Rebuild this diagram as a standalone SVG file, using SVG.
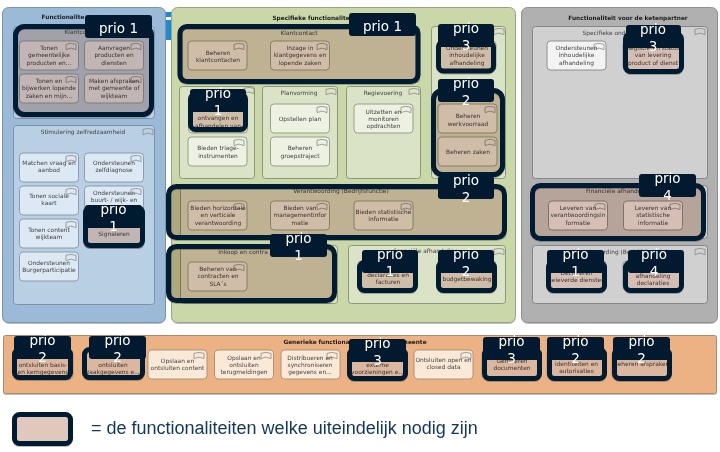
<svg xmlns="http://www.w3.org/2000/svg" width="720" height="452" viewBox="0 0 720 452">
<style>
text{font-family:"DejaVu Sans",Verdana,sans-serif;text-anchor:middle;font-size:5.9px;fill:#454545}
.t{font-weight:700;fill:#1c1c1c;font-size:5.8px}
.panel{stroke-width:1}
.blue{fill:#9bbad8;stroke:#7d93a8}.blue2{fill:#b8cfe4;stroke:#7d93a8}.blue3{fill:#dce8f3;stroke:#8496a6;stroke-width:.9}
.green{fill:#c9d7a9;stroke:#97a387}.green2{fill:#dae3c5;stroke:#8c9879}.green3{fill:#edf1e2;stroke:#8c9879;stroke-width:.9}
.grey{fill:#b0b0b0;stroke:#8f8f8f}.grey2{fill:#d0d0d0;stroke:#868686}.grey3{fill:#f3f3f3;stroke:#868686;stroke-width:.9}
.orange{fill:#edb283;stroke:#a98b70}.orange3{fill:#fbe9d8;stroke:#a08c78;stroke-width:.9}
.tint{fill:#e0c8bd;mix-blend-mode:multiply}
.ring{fill:none;stroke:#011a30;stroke-width:5}
.tag{fill:#011a30}
text.p{fill:#fff;font-size:13.5px}
.flag{fill:none;stroke:#808080;stroke-width:.7}
.legend{font-family:"Liberation Sans",Arial,sans-serif;font-size:18px;fill:#10375c;text-anchor:start}
</style>
<defs>
<path id="flag" class="flag" d="M0 1.3Q5-.5 10 1.3V6.6Q5 3.6 0 6.6Z"/>
<filter id="sh" x="-10%" y="-10%" width="120%" height="125%"><feDropShadow dx="0" dy="1" stdDeviation=".7" flood-color="#000" flood-opacity=".25"/></filter>
<rect id="n" width="59" height="29" rx="3.5"/>
</defs>

<rect width="720" height="452" fill="#fff"/>
<!-- strip of the window behind the panels -->
<rect x="165" y="12" width="7" height="28" fill="#1e8ad6"/>
<rect x="165" y="17" width="7" height="3" fill="#fff"/>

<!-- left column -->
<g id="panel-inwoner">
<rect class="panel blue" x="2.500" y="7.500" width="163" height="315" rx="6" filter="url(#sh)"/>
<text class="t" x="63" y="19">Functionalite</text>
<rect class="panel blue2" x="13.500" y="26.500" width="141" height="92" rx="3"/>
<text x="83" y="34">Klantcontact</text>
<use href="#flag" x="143" y="28"/>
<rect class="panel blue2" x="13.500" y="125.500" width="141" height="179" rx="3"/>
<text x="83" y="134">Stimulering zelfredzaamheid</text>
<use href="#flag" x="143" y="128"/>
</g>
<g id="n-tonen-gemeentelijke"><use href="#n" class="blue3" x="19.500" y="41"/><use href="#flag" x="66" y="43"/><text x="49" y="50">Tonen</text><text x="49" y="57.300">gemeentelijke</text><text x="49" y="64.600">producten en...</text></g>
<g id="n-aanvragen"><use href="#n" class="blue3" x="84.500" y="41"/><use href="#flag" x="131" y="43"/><text x="114" y="50">Aanvragen</text><text x="114" y="57.300">producten en</text><text x="114" y="64.600">diensten</text></g>
<g id="n-tonen-bijwerken"><use href="#n" class="blue3" x="19.500" y="74"/><use href="#flag" x="66" y="76"/><text x="49" y="83">Tonen en</text><text x="49" y="90.300">bijwerken lopende</text><text x="49" y="97.600">zaken en mijn...</text></g>
<g id="n-afspraken"><use href="#n" class="blue3" x="84.500" y="74"/><use href="#flag" x="131" y="76"/><text x="114" y="83">Maken afspraken</text><text x="114" y="90.300">met gemeente of</text><text x="114" y="97.600">wijkteam</text></g>
<g id="n-matchen"><use href="#n" class="blue3" x="19.500" y="153"/><use href="#flag" x="66" y="155"/><text x="49" y="165">Matchen vraag en</text><text x="49" y="172.300">aanbod</text></g>
<g id="n-zelfdiagnose"><use href="#n" class="blue3" x="84.500" y="153"/><use href="#flag" x="131" y="155"/><text x="114" y="165">Ondersteunen</text><text x="114" y="172.300">zelfdiagnose</text></g>
<g id="n-sociale-kaart"><use href="#n" class="blue3" x="19.500" y="186"/><use href="#flag" x="66" y="188"/><text x="49" y="198">Tonen sociale</text><text x="49" y="205.300">kaart</text></g>
<g id="n-buurt"><use href="#n" class="blue3" x="84.500" y="186"/><use href="#flag" x="131" y="188"/><text x="114" y="195">Ondersteunen</text><text x="114" y="202.300">buurt- / wijk- en</text></g>
<g id="n-content-wijkteam"><use href="#n" class="blue3" x="19.500" y="219"/><use href="#flag" x="66" y="221"/><text x="49" y="232">Tonen content</text><text x="49" y="239.300">wijkteam</text></g>
<g id="n-signaleren"><use href="#n" class="blue3" x="84.500" y="219"/><text x="114" y="235.500">Signaleren</text></g>
<g id="n-burgerparticipatie"><use href="#n" class="blue3" x="19.500" y="252"/><use href="#flag" x="66" y="254"/><text x="49" y="264.500">Ondersteunen</text><text x="49" y="271.800">Burgerparticipatie</text></g>

<!-- middle column -->
<g id="panel-specifiek">
<rect class="panel green" x="171.500" y="7.500" width="344" height="315" rx="6" filter="url(#sh)"/>
<text class="t" x="311" y="19.500">Specifieke functionalite</text>
<rect class="panel green2" x="180.500" y="26.500" width="239" height="56" rx="3"/>
<text x="299" y="34.500">Klantcontact</text>
<rect class="panel green2" x="179.500" y="86.500" width="75" height="92" rx="3"/>
<use href="#flag" x="244" y="87"/>
<rect class="panel green2" x="262.500" y="86.500" width="75" height="92" rx="3"/>
<text x="299" y="94.500">Planvorming</text>
<use href="#flag" x="326" y="88"/>
<rect class="panel green2" x="346.500" y="86.500" width="74" height="92" rx="3"/>
<text x="383" y="94.500">Regievoering</text>
<use href="#flag" x="409" y="88"/>
<rect class="panel green2" x="431.500" y="26.500" width="74" height="152" rx="3"/>
<use href="#flag" x="494" y="28"/>
<rect class="panel green2" x="180.500" y="186.500" width="325" height="52" rx="3"/>
<text x="341" y="193">Verantwoording (Bedrijfsfunctie)</text>
<rect class="panel green2" x="180.500" y="245.500" width="157" height="58" rx="3"/>
<text x="243" y="253.500">Inkoop en contra</text>
<rect class="panel green2" x="348.500" y="245.500" width="157" height="58" rx="3"/>
<text x="425" y="253">Financiële afhandeling</text>
<use href="#flag" x="494" y="248"/>
</g>
<g id="n-klantcontacten"><use href="#n" class="green3" x="188" y="41"/><use href="#flag" x="234" y="43"/><text x="218" y="54.500">Beheren</text><text x="218" y="61.500">klantcontacten</text></g>
<g id="n-inzage"><use href="#n" class="green3" x="270.500" y="41"/><use href="#flag" x="317" y="43"/><text x="300" y="50">Inzage in</text><text x="300" y="57.300">klantgegevens en</text><text x="300" y="64.600">lopende zaken</text></g>
<g id="n-ontvangen"><use href="#n" class="green3" x="188.500" y="104"/><text x="218" y="120">ontvangen en</text><text x="218" y="127.500">afhandelen van</text></g>
<g id="n-triage"><use href="#n" class="green3" x="188" y="137"/><use href="#flag" x="234" y="139"/><text x="218" y="150">Bieden triage-</text><text x="218" y="157.500">instrumenten</text></g>
<g id="n-opstellen"><use href="#n" class="green3" x="270.500" y="104"/><use href="#flag" x="317" y="106"/><text x="300" y="120.500">Opstellen plan</text></g>
<g id="n-groepstraject"><use href="#n" class="green3" x="270.500" y="137"/><use href="#flag" x="317" y="139"/><text x="300" y="150">Beheren</text><text x="300" y="157.500">groepstraject</text></g>
<g id="n-uitzetten"><use href="#n" class="green3" x="354" y="104"/><use href="#flag" x="401" y="106"/><text x="383.500" y="113.500">Uitzetten en</text><text x="383.500" y="120.800">monitoren</text><text x="383.500" y="128">opdrachten</text></g>
<g id="n-inhoudelijke"><use href="#n" class="green3" x="437" y="41"/><text x="467" y="50">Ondersteunen</text><text x="467" y="57.300">inhoudelijke</text><text x="467" y="64.600">afhandeling</text></g>
<g id="n-werkvoorraad"><use href="#n" class="green3" x="438" y="104"/><use href="#flag" x="485" y="106"/><text x="468" y="118">Beheren</text><text x="468" y="125.500">werkvoorraad</text></g>
<g id="n-zaken"><use href="#n" class="green3" x="438" y="137"/><use href="#flag" x="485" y="139"/><text x="468" y="154">Beheren zaken</text></g>
<g id="n-horizontale"><use href="#n" class="green3" x="188" y="201"/><use href="#flag" x="234" y="203"/><text x="218" y="210">Bieden horizontale</text><text x="218" y="217.300">en verticale</text><text x="218" y="224.600">verantwoording</text></g>
<g id="n-managementinfo"><use href="#n" class="green3" x="270.500" y="201"/><use href="#flag" x="317" y="203"/><text x="300" y="210">Bieden van</text><text x="300" y="217.300">managementinfor</text><text x="300" y="224.600">matie</text></g>
<g id="n-statistische"><use href="#n" class="green3" x="354" y="201"/><use href="#flag" x="401" y="203"/><text x="383.500" y="214">Bieden statistische</text><text x="383.500" y="221.300">informatie</text></g>
<g id="n-contracten"><use href="#n" class="green3" x="188" y="262"/><use href="#flag" x="234" y="264"/><text x="218" y="271">Beheren van</text><text x="218" y="278.300">contracten en</text><text x="218" y="285.600">SLA´s</text></g>
<g id="n-declaraties"><use href="#n" class="green3" x="358" y="261"/><text x="388" y="277">declaraties en</text><text x="388" y="284.300">facturen</text></g>
<g id="n-budget"><use href="#n" class="green3" x="437" y="261"/><text x="467" y="280.800">budgetbewaking</text></g>

<!-- right column -->
<g id="panel-ketenpartner">
<rect class="panel grey" x="521.500" y="7.500" width="196" height="315" rx="6" filter="url(#sh)"/>
<text class="t" x="628" y="19.500">Functionaliteit voor de ketenpartner</text>
<rect class="panel grey2" x="532.500" y="26.500" width="175" height="152" rx="3"/>
<text x="604" y="34.500">Specifieke ond</text>
<use href="#flag" x="695" y="28"/>
<rect class="panel grey2" x="532.500" y="185.500" width="175" height="53" rx="3"/>
<text x="619" y="193">Financiële afhandeling</text>
<rect class="panel grey2" x="532.500" y="245.500" width="175" height="58" rx="3"/>
<text x="620" y="254">Verantwoording (Bedrijfsfunctie)</text>
<use href="#flag" x="695" y="248"/>
</g>
<g id="n-ketenpartner-inhoudelijk"><use href="#n" class="grey3" x="547" y="41"/><use href="#flag" x="594" y="43"/><text x="576.500" y="50">Ondersteunen</text><text x="576.500" y="57.300">inhoudelijke</text><text x="576.500" y="64.600">afhandeling</text></g>
<g id="n-levering"><use href="#n" class="grey3" x="623" y="41"/><text x="653" y="50">Registreren status</text><text x="653" y="57.300">van levering</text><text x="653" y="64.600">product of dienst</text></g>
<g id="n-verantwoordingsinformatie"><use href="#n" class="grey3" x="548.500" y="201"/><use href="#flag" x="595" y="203"/><text x="578" y="210">Leveren van</text><text x="578" y="217.300">verantwoordingsin</text><text x="578" y="224.600">formatie</text></g>
<g id="n-statistisch"><use href="#n" class="grey3" x="623.500" y="201"/><use href="#flag" x="670" y="203"/><text x="653" y="210">Leveren van</text><text x="653" y="217.300">statistische</text><text x="653" y="224.600">informatie</text></g>
<g id="n-geleverde"><use href="#n" class="grey3" x="547" y="261"/><text x="576.500" y="275">Declareren</text><text x="576.500" y="282.300">geleverde diensten</text></g>
<g id="n-afhandeling-declaraties"><use href="#n" class="grey3" x="623" y="261"/><text x="653" y="278">afhandeling</text><text x="653" y="285.300">declaraties</text></g>

<!-- bottom band -->
<g id="panel-generiek">
<rect class="panel orange" x="3.500" y="335.500" width="713" height="58" rx="2" filter="url(#sh)"/>
<text class="t" x="355" y="343.500">Generieke functionaliteit voor de gemeente</text>
</g>
<g id="n-basisgegevens"><use href="#n" class="orange3" x="14" y="350"/><text x="43" y="367">ontsluiten basis-</text><text x="43" y="374.300">en kerngegevens</text></g>
<g id="n-zaakgegevens"><use href="#n" class="orange3" x="84" y="350"/><text x="113" y="367">ontsluiten</text><text x="113" y="374.300">zaakgegevens e...</text></g>
<g id="n-content"><use href="#n" class="orange3" x="148" y="350"/><use href="#flag" x="194" y="352"/><text x="177.500" y="363">Opslaan en</text><text x="177.500" y="370.300">ontsluiten content</text></g>
<g id="n-terugmeldingen"><use href="#n" class="orange3" x="214.500" y="350"/><use href="#flag" x="261" y="352"/><text x="244" y="359.500">Opslaan en</text><text x="244" y="366.800">ontsluiten</text><text x="244" y="374">terugmeldingen</text></g>
<g id="n-distribueren"><use href="#n" class="orange3" x="281" y="350"/><use href="#flag" x="327" y="352"/><text x="310" y="359.500">Distribueren en</text><text x="310" y="366.800">synchroniseren</text><text x="310" y="374">gegevens en...</text></g>
<g id="n-voorzieningen"><use href="#n" class="orange3" x="348" y="350"/><text x="377.500" y="367">externe</text><text x="377.500" y="374.300">voorzieningen e...</text></g>
<g id="n-open-data"><use href="#n" class="orange3" x="414" y="350"/><use href="#flag" x="461" y="352"/><text x="443.500" y="362">Ontsluiten open en</text><text x="443.500" y="369.300">closed data</text></g>
<g id="n-documenten"><use href="#n" class="orange3" x="482" y="350"/><text x="512" y="363">Genereren</text><text x="512" y="370.300">documenten</text></g>
<g id="n-autorisaties"><use href="#n" class="orange3" x="547" y="350"/><text x="576.500" y="366">identiteiten en</text><text x="576.500" y="373.300">autorisaties</text></g>
<g id="n-afspraken-beheer"><use href="#n" class="orange3" x="612" y="350"/><text x="641.500" y="366">Beheren afspraken</text></g>

<!-- priority frames: large frames enclose a block, small ones a single function -->
<g id="prio-klantcontact"><rect class="tint" x="15.500" y="26.500" width="136" height="88" rx="9"/><rect class="ring" x="15.500" y="26.500" width="136" height="88" rx="9" filter="url(#sh)"/><rect class="tag" x="85" y="15" width="67" height="23" rx="3"/><text class="p" x="118.500" y="33">prio 1</text></g>
<g id="prio-signaleren"><rect class="tint" x="85.500" y="207.500" width="57" height="38" rx="5"/><rect class="ring" x="85.500" y="207.500" width="57" height="38" rx="5" filter="url(#sh)"/><rect class="tag" x="85" y="205" width="57" height="23" rx="3"/><text class="p" x="113.500" y="214">prio</text><text class="p" x="113.500" y="231">1</text></g>
<g id="prio-specifiek-klantcontact"><rect class="tint" x="180" y="26.500" width="238" height="55" rx="7"/><rect class="ring" x="180" y="26.500" width="238" height="55" rx="7" filter="url(#sh)"/><rect class="tag" x="349" y="13" width="67" height="23" rx="3"/><text class="p" x="382.500" y="31">prio 1</text></g>
<g id="prio-ontvangen"><rect class="tint" x="190.500" y="94" width="55" height="35.500" rx="5"/><rect class="ring" x="190.500" y="94" width="55" height="35.500" rx="5" filter="url(#sh)"/><rect class="tag" x="190" y="89" width="56" height="23" rx="3"/><text class="p" x="218" y="98">prio</text><text class="p" x="218" y="115">1</text></g>
<g id="prio-inhoudelijk"><rect class="tint" x="438.500" y="42" width="55" height="29" rx="5"/><rect class="ring" x="438.500" y="42" width="55" height="29" rx="5" filter="url(#sh)"/><rect class="tag" x="438" y="24" width="56" height="23" rx="3"/><text class="p" x="466" y="33">prio</text><text class="p" x="466" y="50">3</text></g>
<g id="prio-zaken"><rect class="tint" x="433.500" y="90.500" width="69" height="84" rx="9"/><rect class="ring" x="433.500" y="90.500" width="69" height="84" rx="9" filter="url(#sh)"/><rect class="tag" x="438" y="79" width="56" height="23" rx="3"/><text class="p" x="466" y="88">prio</text><text class="p" x="466" y="105">2</text></g>
<g id="prio-verantwoording"><rect class="tint" x="168.500" y="186.500" width="336" height="51" rx="8"/><rect class="ring" x="168.500" y="186.500" width="336" height="51" rx="8" filter="url(#sh)"/><rect class="tag" x="438" y="176" width="56" height="23" rx="3"/><text class="p" x="466" y="185">prio</text><text class="p" x="466" y="202">2</text></g>
<g id="prio-inkoop"><rect class="tint" x="168.500" y="246.500" width="166" height="54" rx="8"/><rect class="ring" x="168.500" y="246.500" width="166" height="54" rx="8" filter="url(#sh)"/><rect class="tag" x="270" y="234" width="57" height="23" rx="3"/><text class="p" x="298.500" y="243">prio</text><text class="p" x="298.500" y="260">1</text></g>
<g id="prio-declaraties"><rect class="tint" x="359.500" y="262.500" width="56" height="28" rx="5"/><rect class="ring" x="359.500" y="262.500" width="56" height="28" rx="5" filter="url(#sh)"/><rect class="tag" x="362" y="250" width="56" height="23" rx="3"/><text class="p" x="390" y="259">prio</text><text class="p" x="390" y="276">1</text></g>
<g id="prio-budget"><rect class="tint" x="438.500" y="262.500" width="56" height="28" rx="5"/><rect class="ring" x="438.500" y="262.500" width="56" height="28" rx="5" filter="url(#sh)"/><rect class="tag" x="438" y="250" width="56" height="23" rx="3"/><text class="p" x="466" y="259">prio</text><text class="p" x="466" y="276">2</text></g>
<g id="prio-levering"><rect class="tint" x="625.500" y="34" width="56" height="37.500" rx="5"/><rect class="ring" x="625.500" y="34" width="56" height="37.500" rx="5" filter="url(#sh)"/><rect class="tag" x="626" y="25" width="55" height="23" rx="3"/><text class="p" x="653" y="34">prio</text><text class="p" x="653" y="51">3</text></g>
<g id="prio-financieel"><rect class="tint" x="532.500" y="185.500" width="171" height="53" rx="8"/><rect class="ring" x="532.500" y="185.500" width="171" height="53" rx="8" filter="url(#sh)"/><rect class="tag" x="639" y="174" width="57" height="23" rx="3"/><text class="p" x="667.500" y="183">prio</text><text class="p" x="667.500" y="200">4</text></g>
<g id="prio-geleverd"><rect class="tint" x="548.500" y="262.500" width="56" height="28" rx="5"/><rect class="ring" x="548.500" y="262.500" width="56" height="28" rx="5" filter="url(#sh)"/><rect class="tag" x="547" y="250" width="57" height="23" rx="3"/><text class="p" x="575.500" y="259">prio</text><text class="p" x="575.500" y="276">1</text></g>
<g id="prio-afhandeling"><rect class="tint" x="625.500" y="262.500" width="56" height="28" rx="5"/><rect class="ring" x="625.500" y="262.500" width="56" height="28" rx="5" filter="url(#sh)"/><rect class="tag" x="628" y="250" width="56" height="23" rx="3"/><text class="p" x="654" y="259">prio</text><text class="p" x="654" y="276">4</text></g>
<g id="prio-basis"><rect class="tint" x="14.500" y="349.500" width="56" height="28" rx="5"/><rect class="ring" x="14.500" y="349.500" width="56" height="28" rx="5" filter="url(#sh)"/><rect class="tag" x="14" y="336" width="57" height="23" rx="3"/><text class="p" x="42.500" y="345">prio</text><text class="p" x="42.500" y="362">2</text></g>
<g id="prio-zaak"><rect class="tint" x="84.500" y="349.500" width="58" height="28" rx="5"/><rect class="ring" x="84.500" y="349.500" width="58" height="28" rx="5" filter="url(#sh)"/><rect class="tag" x="89" y="336" width="57" height="23" rx="3"/><text class="p" x="117.500" y="345">prio</text><text class="p" x="117.500" y="362">2</text></g>
<g id="prio-extern"><rect class="tint" x="349.500" y="349.500" width="56" height="29" rx="5"/><rect class="ring" x="349.500" y="349.500" width="56" height="29" rx="5" filter="url(#sh)"/><rect class="tag" x="349" y="339" width="57" height="23" rx="3"/><text class="p" x="377.500" y="348">prio</text><text class="p" x="377.500" y="365">3</text></g>
<g id="prio-documenten"><rect class="tint" x="484.500" y="349.500" width="55" height="29" rx="5"/><rect class="ring" x="484.500" y="349.500" width="55" height="29" rx="5" filter="url(#sh)"/><rect class="tag" x="483" y="337" width="57" height="23" rx="3"/><text class="p" x="511.500" y="346">prio</text><text class="p" x="511.500" y="363">3</text></g>
<g id="prio-identiteiten"><rect class="tint" x="549.500" y="349.500" width="55" height="29" rx="5"/><rect class="ring" x="549.500" y="349.500" width="55" height="29" rx="5" filter="url(#sh)"/><rect class="tag" x="547" y="337" width="57" height="23" rx="3"/><text class="p" x="575.500" y="346">prio</text><text class="p" x="575.500" y="363">2</text></g>
<g id="prio-afspraken"><rect class="tint" x="614.500" y="349.500" width="55" height="29" rx="5"/><rect class="ring" x="614.500" y="349.500" width="55" height="29" rx="5" filter="url(#sh)"/><rect class="tag" x="613" y="337" width="57" height="23" rx="3"/><text class="p" x="641.500" y="346">prio</text><text class="p" x="641.500" y="363">2</text></g>

<!-- key -->
<g id="legend">
<rect x="14.500" y="414.500" width="56" height="29" rx="5" fill="#e0c8bd" stroke="#011a30" stroke-width="5" filter="url(#sh)"/>
<text class="legend" x="91" y="434">= de functionaliteiten welke uiteindelijk nodig zijn</text>
</g>
</svg>
